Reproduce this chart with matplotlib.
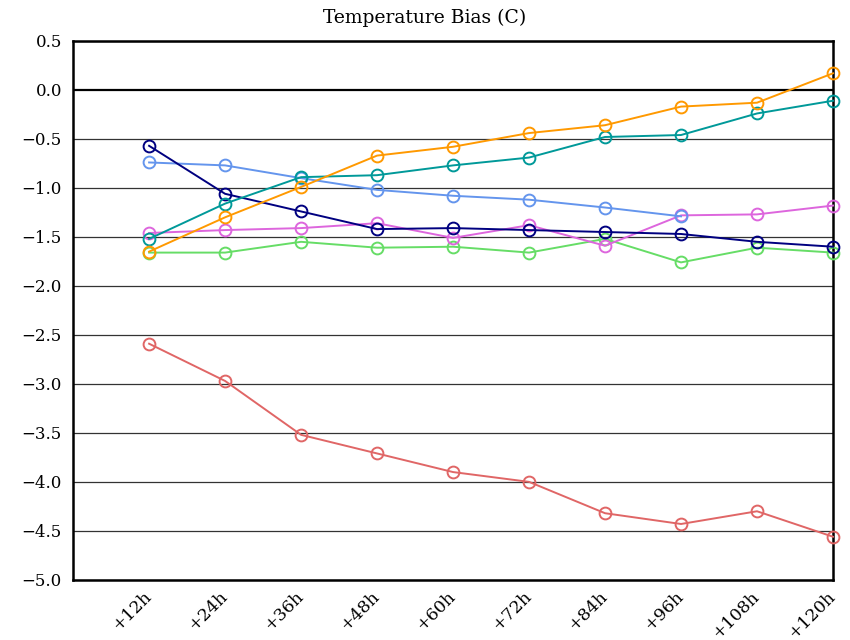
import numpy as np
import matplotlib
matplotlib.use("Agg")
import matplotlib.pyplot as plt
from matplotlib.transforms import ScaledTranslation

# forecast lead times (hours)
lead_hours = [12, 24, 36, 48, 60, 72, 84, 96, 108, 120]
lead_labels = ["+12h", "+24h", "+36h", "+48h", "+60h", "+72h", "+84h", "+96h", "+108h", "+120h"]

navy_bias = [-0.57, -1.06, -1.24, -1.42, -1.41, -1.43, -1.45, -1.47, -1.55, -1.60]
cornflower_bias = [-0.74, -0.77, -0.90, -1.02, -1.08, -1.12, -1.20, -1.29, np.nan, np.nan]
teal_bias = [-1.52, -1.16, -0.89, -0.87, -0.77, -0.69, -0.48, -0.46, -0.24, -0.11]
orange_bias = [-1.65, -1.30, -0.99, -0.67, -0.58, -0.44, -0.36, -0.17, -0.13, 0.17]
violet_bias = [-1.46, -1.43, -1.41, -1.36, -1.51, -1.38, -1.59, -1.28, -1.27, -1.18]
green_bias = [-1.66, -1.66, -1.55, -1.61, -1.60, -1.66, -1.52, -1.76, -1.61, -1.66]
red_bias = [-2.59, -2.97, -3.52, -3.71, -3.90, -4.00, -4.32, -4.43, -4.30, -4.56]

y_ticks = [0.5, 0.0, -0.5, -1.0, -1.5, -2.0, -2.5, -3.0, -3.5, -4.0, -4.5, -5.0]


def main():
    plt.rcParams['font.family'] = ['DejaVu Serif']
    fig = plt.figure(figsize=(8.5, 6.4), dpi=100)
    ax = fig.add_axes([0.086, 0.094, 0.894, 0.842])

    # horizontal guide lines
    for yv in y_ticks:
        if yv == 0.0:
            ax.axhline(yv, color='black', lw=1.6, zorder=1)
        else:
            ax.axhline(yv, color='#333333', lw=0.9, zorder=1)

    series = [
        (red_bias, '#e06666'),
        (green_bias, '#66dd66'),
        (violet_bias, '#dd66dd'),
        (cornflower_bias, '#6495ed'),
        (navy_bias, '#000080'),
        (teal_bias, '#009999'),
        (orange_bias, '#ff9900'),
    ]
    for vals, col in series:
        ax.plot(lead_hours, vals, color=col, lw=1.4, marker='o', markersize=8.5,
                markerfacecolor='none', markeredgewidth=1.4, zorder=3, clip_on=False)

    ax.set_xlim(0, 120)
    ax.set_ylim(-5.0, 0.5)
    ax.set_yticks(y_ticks)
    ax.set_yticklabels([f"{v:.1f}".replace('-', '\u2212') for v in y_ticks], fontsize=12)
    ax.set_xticks(lead_hours)
    ax.set_xticklabels(lead_labels, fontsize=12.5, rotation=45, ha='right', va='top',
                       rotation_mode='anchor')
    ax.tick_params(axis='y', length=0, pad=8)
    ax.tick_params(axis='x', length=0, pad=6)
    shift = ScaledTranslation(-6 / 100, 0, fig.dpi_scale_trans)
    for lab in ax.get_xticklabels():
        lab.set_transform(lab.get_transform() + shift)

    for sp in ax.spines.values():
        sp.set_linewidth(1.8)
        sp.set_color('black')

    fig.text(0.5, 0.972, "Temperature Bias (C)", ha='center', va='center', fontsize=13.5)

    fig.savefig("out.png", dpi=100)


if __name__ == '__main__':
    main()
